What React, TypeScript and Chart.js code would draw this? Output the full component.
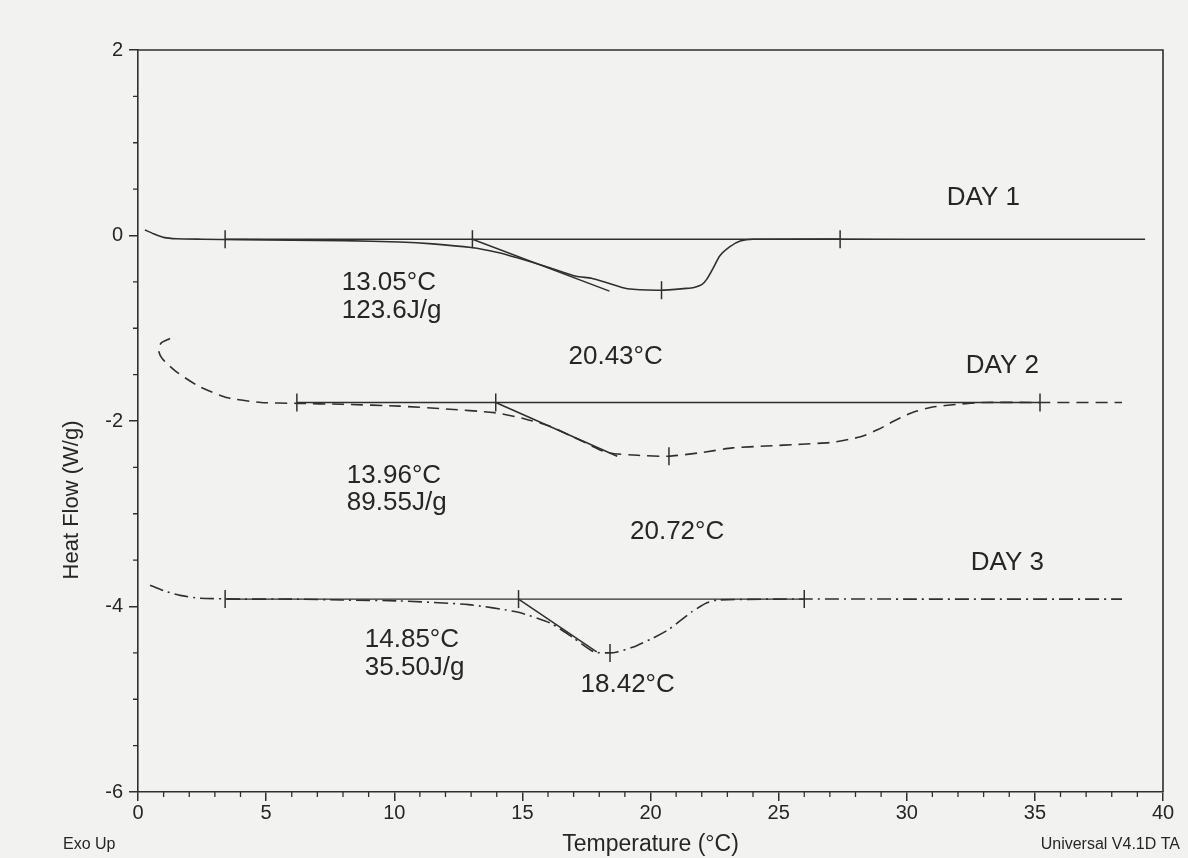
import React, { useEffect, useRef } from 'react';
import { Chart, registerables } from 'chart.js';

Chart.register(...registerables);

// ---- Data ----
const day1Temp = [0.27, 0.6, 1.0, 1.5, 2.5, 4.0, 6.0, 8.0, 10.2, 11.5, 13.0, 14.0, 14.8, 16.1, 17.1, 17.7, 18.3, 19.1, 20.4, 21.4, 21.7, 22.0, 22.2, 22.45, 22.7, 23.1, 23.5, 24.0, 30.0, 39.3];
const day1Flow = [0.06, 0.02, -0.02, -0.035, -0.04, -0.045, -0.05, -0.055, -0.07, -0.09, -0.13, -0.18, -0.24, -0.35, -0.44, -0.46, -0.51, -0.575, -0.59, -0.57, -0.56, -0.53, -0.47, -0.35, -0.22, -0.12, -0.06, -0.04, -0.04, -0.04];

const day2Temp = [1.25, 0.9, 0.8, 0.95, 1.5, 2.4, 3.5, 4.8, 6.2, 8.0, 10.2, 12.0, 13.9, 15.0, 16.1, 17.2, 18.3, 19.5, 20.7, 22.0, 23.2, 24.5, 25.9, 27.1, 28.2, 28.9, 29.5, 30.2, 31.0, 32.0, 33.0, 35.0, 38.4];
const day2Flow = [-1.11, -1.16, -1.24, -1.33, -1.47, -1.63, -1.75, -1.80, -1.81, -1.82, -1.84, -1.87, -1.91, -1.97, -2.06, -2.20, -2.34, -2.37, -2.38, -2.34, -2.29, -2.27, -2.25, -2.23, -2.17, -2.09, -2.00, -1.91, -1.85, -1.82, -1.80, -1.80, -1.80];

const day3Temp = [0.47, 1.0, 1.64, 2.4, 4.0, 6.0, 8.0, 10.2, 12.9, 14.8, 16.1, 17.0, 17.8, 18.4, 18.7, 19.3, 20.1, 20.7, 21.6, 22.2, 22.6, 25.0, 30.0, 38.4];
const day3Flow = [-3.77, -3.83, -3.88, -3.91, -3.92, -3.92, -3.93, -3.94, -3.98, -4.06, -4.18, -4.34, -4.49, -4.50, -4.49, -4.44, -4.34, -4.25, -4.06, -3.96, -3.93, -3.92, -3.92, -3.92];

// Extrapolated baselines (start / end temperatures, flow level)
const baselineTemp = [[3.4, 27.4], [6.2, 35.2], [3.4, 26.0]];
const baselineFlow = [-0.04, -1.80, -3.92];

// Onset tangents
const tangentTemp = [[13.05, 18.4], [13.96, 18.7], [14.85, 17.9]];
const tangentFlow = [[-0.04, -0.60], [-1.80, -2.38], [-3.92, -4.49]];

// Analysis cursor marks
const markerTemp = [3.4, 13.05, 20.43, 27.4, 6.2, 13.96, 20.72, 35.2, 3.4, 14.85, 18.42, 26.0];
const markerFlow = [-0.04, -0.04, -0.59, -0.04, -1.80, -1.80, -2.38, -1.80, -3.92, -3.92, -4.50, -3.92];

const xTickValues = [0, 5, 10, 15, 20, 25, 30, 35, 40];
const yTickValues = [2, 0, -2, -4, -6];

// Annotation texts
const annotationText = ['DAY 1', '13.05°C', '123.6J/g', '20.43°C', 'DAY 2', '13.96°C', '89.55J/g', '20.72°C', 'DAY 3', '14.85°C', '35.50J/g', '18.42°C'];
// anchor (left edge, vertical middle) in data coordinates
const annotationTemp = [31.56, 7.95, 7.95, 16.8, 32.3, 8.15, 8.15, 19.2, 32.5, 8.85, 8.85, 17.27];
const annotationFlow = [0.41, -0.51, -0.81, -1.31, -1.41, -2.59, -2.88, -3.2, -3.53, -4.36, -4.66, -4.84];

const FONT = '"Liberation Sans", Arial, Helvetica, sans-serif';
const INK = '#2f2f2f';
const PAPER = '#f2f2f0';

function pts(xs: number[], ys: number[]) {
  return xs.map((x, i) => ({ x, y: ys[i] }));
}

const paperPlugin = {
  id: 'paper',
  beforeDraw(chart: any) {
    const { ctx, width, height } = chart;
    ctx.save();
    ctx.fillStyle = PAPER;
    ctx.fillRect(0, 0, width, height);
    ctx.restore();
  },
};

const framePlugin = {
  id: 'frame',
  afterDraw(chart: any) {
    const { ctx, chartArea } = chart;
    const xs = chart.scales.x;
    const ys = chart.scales.y;
    ctx.save();
    ctx.strokeStyle = INK;
    ctx.lineWidth = 1.6;
    ctx.beginPath();
    ctx.moveTo(chartArea.left, chartArea.top);
    ctx.lineTo(chartArea.right, chartArea.top);
    ctx.lineTo(chartArea.right, chartArea.bottom);
    ctx.stroke();
    // minor ticks
    ctx.lineWidth = 1.3;
    ctx.beginPath();
    for (let v = 0; v <= 40; v += 1) {
      if (v % 5 === 0) continue;
      const px = xs.getPixelForValue(v);
      ctx.moveTo(px, chartArea.bottom);
      ctx.lineTo(px, chartArea.bottom + 5);
    }
    for (let v = -6; v <= 2; v += 0.5) {
      if (Math.abs(v % 2) < 1e-9) continue;
      const py = ys.getPixelForValue(v);
      ctx.moveTo(chartArea.left - 5, py);
      ctx.lineTo(chartArea.left, py);
    }
    ctx.stroke();

    // annotations
    ctx.fillStyle = '#262626';
    ctx.textBaseline = 'middle';
    ctx.textAlign = 'left';
    ctx.font = `26px ${FONT}`;
    annotationText.forEach((t, i) => {
      ctx.fillText(t, xs.getPixelForValue(annotationTemp[i]), ys.getPixelForValue(annotationFlow[i]));
    });

    // y axis title
    ctx.save();
    ctx.font = `22px ${FONT}`;
    ctx.textAlign = 'center';
    ctx.translate(72, 500);
    ctx.rotate(-Math.PI / 2);
    ctx.fillText('Heat Flow (W/g)', 0, 0);
    ctx.restore();

    ctx.font = `16px ${FONT}`;
    ctx.textAlign = 'left';
    ctx.fillText('Exo Up', 63, 845);
    ctx.textAlign = 'right';
    ctx.fillText('Universal V4.1D TA', 1180, 845);
    ctx.restore();
  },
};

export default function App() {
  const ref = useRef<HTMLCanvasElement | null>(null);

  useEffect(() => {
    if (!ref.current) return;
    const lineBase = {
      pointRadius: 0,
      borderColor: INK,
      borderWidth: 1.6,
      showLine: true,
      fill: false,
    };
    const datasets: any[] = [
      { ...lineBase, label: 'DAY 1', data: pts(day1Temp, day1Flow), tension: 0.2 },
      { ...lineBase, label: 'DAY 2', data: pts(day2Temp, day2Flow), tension: 0.2, borderDash: [12, 7] },
      { ...lineBase, label: 'DAY 3', data: pts(day3Temp, day3Flow), tension: 0.2, borderDash: [14, 5, 2, 5] },
    ];
    baselineTemp.forEach((t, i) => {
      datasets.push({ ...lineBase, label: `base${i}`, data: pts(t, [baselineFlow[i], baselineFlow[i]]), borderWidth: 1.4 });
    });
    tangentTemp.forEach((t, i) => {
      datasets.push({ ...lineBase, label: `tan${i}`, data: pts(t, tangentFlow[i]), borderWidth: 1.5 });
    });
    datasets.push({
      label: 'marks',
      data: pts(markerTemp, markerFlow),
      showLine: false,
      pointStyle: 'line',
      rotation: 90,
      pointRadius: 9,
      pointBorderWidth: 1.5,
      pointBorderColor: INK,
      borderColor: INK,
    });

    const chart = new Chart(ref.current, {
      type: 'scatter',
      data: { datasets },
      options: {
        animation: false,
        responsive: false,
        events: [],
        layout: { padding: { left: 0, top: 50, right: 25, bottom: 0 } },
        plugins: { legend: { display: false }, tooltip: { enabled: false } },
        scales: {
          x: {
            type: 'linear',
            min: 0,
            max: 40,
            afterFit: (s: any) => { s.height = 66; },
            afterBuildTicks: (s: any) => { s.ticks = xTickValues.map((v) => ({ value: v })); },
            ticks: { color: '#262626', font: { family: FONT, size: 20 }, padding: 0, callback: (v: any) => String(v) },
            grid: { drawOnChartArea: false, tickLength: 9, color: INK, lineWidth: 1.5 },
            border: { color: INK, width: 1.6 },
            title: { display: true, text: 'Temperature (°C)', color: '#262626', font: { family: FONT, size: 23 }, padding: { top: 0, bottom: 0 } },
          },
          y: {
            type: 'linear',
            min: -6,
            max: 2,
            afterFit: (s: any) => { s.width = 138; },
            afterBuildTicks: (s: any) => { s.ticks = yTickValues.map((v) => ({ value: v })); },
            ticks: { color: '#262626', font: { family: FONT, size: 20 }, padding: 6, callback: (v: any) => String(v) },
            grid: { drawOnChartArea: false, tickLength: 9, color: INK, lineWidth: 1.5 },
            border: { color: INK, width: 1.6 },
          },
        },
      },
      plugins: [paperPlugin, framePlugin],
    } as any);
    return () => chart.destroy();
  }, []);

  return (
    <div style={{ position: 'absolute', left: 0, top: 0, width: 1188, height: 858, background: PAPER }}>
      <canvas ref={ref} width={1188} height={858} />
    </div>
  );
}
